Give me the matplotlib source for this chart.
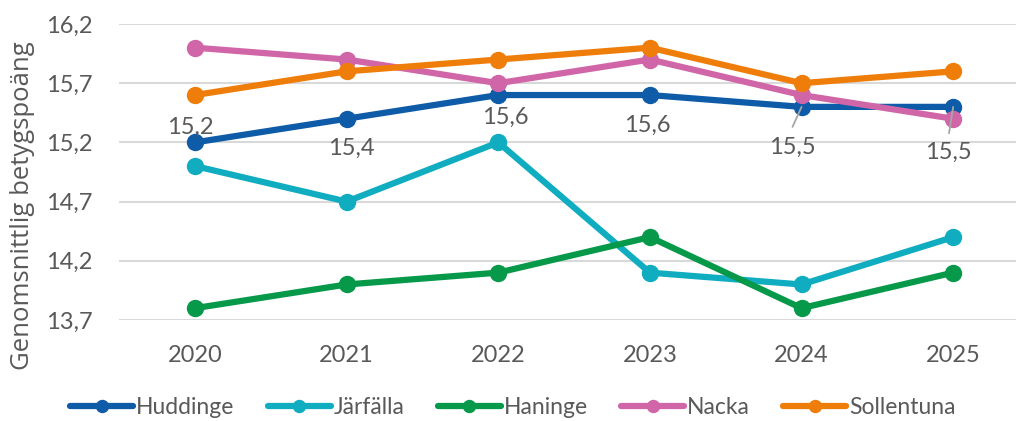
import matplotlib
matplotlib.use("Agg")
import matplotlib.pyplot as plt

plt.rcParams['font.family'] = ['Lato', 'DejaVu Sans']

years = ["2020", "2021", "2022", "2023", "2024", "2025"]
huddinge = [15.2, 15.4, 15.6, 15.6, 15.5, 15.5]
jarfalla = [15.0, 14.7, 15.2, 14.1, 14.0, 14.4]
haninge = [13.8, 14.0, 14.1, 14.4, 13.8, 14.1]
nacka = [16.0, 15.9, 15.7, 15.9, 15.6, 15.4]
sollentuna = [15.6, 15.8, 15.9, 16.0, 15.7, 15.8]
yticks = [13.7, 14.2, 14.7, 15.2, 15.7, 16.2]
ylabel = "Genomsnittlig betygspoäng"

series = [
    ("Huddinge", huddinge, "#0E5BA8"),
    ("Järfälla", jarfalla, "#10ADC1"),
    ("Haninge", haninge, "#06994A"),
    ("Nacka", nacka, "#D066A8"),
    ("Sollentuna", sollentuna, "#EF7D0A"),
]

txt = "#595959"
fs = 17
fig = plt.figure(figsize=(10.16, 4.21), dpi=100)
ax = fig.add_axes([0.1173, 0.2399, 0.8955, 0.7031])
x = list(range(len(years)))

draw_order = [1, 2, 0, 3, 4]
for i in draw_order:
    name, vals, col = series[i]
    ax.plot(x, vals, color=col, lw=4.5, marker='o', ms=11.5, label=name,
            solid_capstyle='round', zorder=3 + i)

ax.set_xlim(-0.5, len(years) - 0.5)
ax.set_ylim(yticks[0], yticks[-1])
ax.set_yticks(yticks)
ax.set_yticklabels([f"{v:.1f}".replace(".", ",") for v in yticks])
ax.set_xticks(x)
ax.set_xticklabels(years)
ax.tick_params(axis='both', length=0, labelsize=fs, colors=txt)
ax.tick_params(axis='x', pad=18)
ax.tick_params(axis='y', pad=19)
ax.grid(axis='y', color='#D9D9D9', lw=1.5)
ax.set_axisbelow(True)
for s in ax.spines.values():
    s.set_visible(False)

fig.text(0.0226, 0.511, ylabel, rotation=90, ha='center', va='center',
         fontsize=18.5, color=txt, family=['Open Sans', 'DejaVu Sans'])

# data labels for Huddinge (offsets in points relative to point)
offsets = [(-3.6, 10.8), (3, -21.6), (5, -16), (-2, -22), (-6.5, -29), (-3.6, -33)]
for xi, v, (dx, dy) in zip(x, huddinge, offsets):
    ax.annotate(f"{v:.1f}".replace(".", ","), (xi, v), xytext=(dx, dy),
                textcoords='offset points', ha='center', va='center',
                fontsize=fs, color=txt, zorder=10)
# leader lines for the last two labels
leaders = [(-6.5, -14.4), (-3, -19)]
for xi, v, (dx, dy) in zip(x[4:], huddinge[4:], leaders):
    ax.annotate("", (xi, v), xytext=(dx, dy), textcoords='offset points',
                arrowprops=dict(arrowstyle='-', color='#A6A6A6', lw=1.3,
                                shrinkA=0, shrinkB=0), zorder=10)

handles, labels = ax.get_legend_handles_labels()
order = [labels.index(s[0]) for s in series]
leg = fig.legend([handles[k] for k in order], [labels[k] for k in order],
                 loc='center', bbox_to_anchor=(0.505, 0.031), ncol=5,
                 frameon=False, fontsize=16.5, handlelength=2.75,
                 handletextpad=0.13, columnspacing=1.45, markerscale=0.75,
                 borderpad=0, borderaxespad=0)
for t in leg.get_texts():
    t.set_color(txt)

fig.savefig("out.png", dpi=100)
